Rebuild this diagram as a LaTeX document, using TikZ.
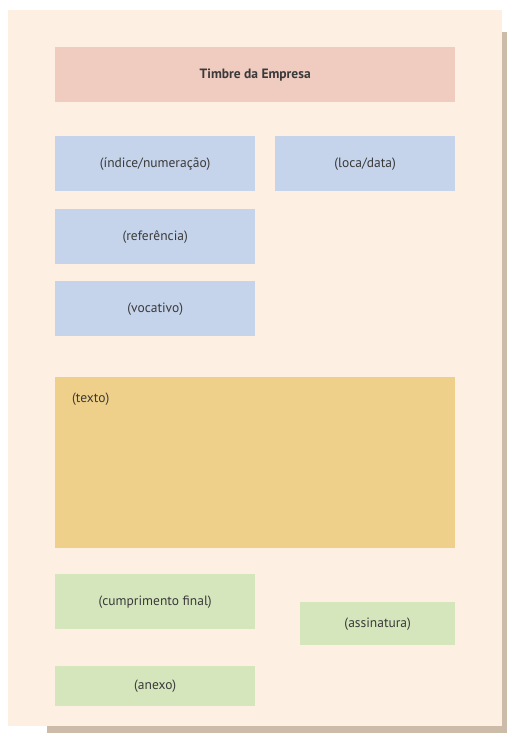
\documentclass[tikz,border=0pt]{standalone}
\usepackage{fontspec}
\setmainfont{PT Sans}
\usetikzlibrary{positioning}

\definecolor{pageCream}{HTML}{FDF0E2}
\definecolor{pageShadow}{HTML}{CDBBA9}
\definecolor{headPink}{HTML}{F0CBBF}
\definecolor{fieldBlue}{HTML}{C5D3EB}
\definecolor{bodyGold}{HTML}{EED08A}
\definecolor{endGreen}{HTML}{D5E6BC}
\definecolor{inkGray}{HTML}{3A3A3A}

\begin{document}
\begin{tikzpicture}[
    x=1pt, y=-1pt,
    % Define the style for every block of the letter
    fBox/.style={
        rectangle,
        anchor=north west,
        inner sep=0pt,
        text=inkGray,
        font=\fontsize{13.5}{15}\selectfont
    },
    % Wide and narrow blocks
    wideBox/.style={fBox, minimum width=400pt, minimum height=55pt},
    halfBox/.style={fBox, minimum width=200pt, minimum height=55pt},
    % Define the style for the free label inside the text block
    boxLabel/.style={
        anchor=north west,
        inner sep=0pt,
        text=inkGray,
        font=\fontsize{13.5}{15}\selectfont
    }
]

    % --- PAGE ---
    \useasboundingbox (0,0) rectangle (507,733);
    \fill[pageShadow] (47,32) rectangle (507,733);
    \fill[pageCream] (8,10) rectangle (502,726);

    % --- HEADER ---
    \node[wideBox, fill=headPink, font=\fontsize{13.5}{15}\selectfont\bfseries]
        (timbre) at (55,47) {Timbre da Empresa};

    % --- LEFT COLUMN FIELDS ---
    \foreach \y/\name/\txt in {136/indice/{(índice/numeração)},
                               209/referencia/{(referência)},
                               281/vocativo/{(vocativo)}} {
        \node[halfBox, fill=fieldBlue] (\name) at (55,\y) {\txt};
    }

    % Place and date
    \node[fBox, fill=fieldBlue, minimum width=180pt, minimum height=55pt]
        (local) at (275,136) {(loca/data)};

    % --- BODY ---
    \node[wideBox, fill=bodyGold, minimum height=171pt] (texto) at (55,377) {};
    \node[boxLabel] at ([xshift=17pt,yshift=-16pt]texto.north west) {(texto)};

    % --- CLOSING ---
    \node[halfBox, fill=endGreen] (cumprimento) at (55,574) {(cumprimento final)};
    \node[fBox, fill=endGreen, minimum width=155pt, minimum height=43pt]
        (assinatura) at (300,602) {(assinatura)};
    \node[halfBox, fill=endGreen, minimum height=40pt] (anexo) at (55,666) {(anexo)};

\end{tikzpicture}
\end{document}
